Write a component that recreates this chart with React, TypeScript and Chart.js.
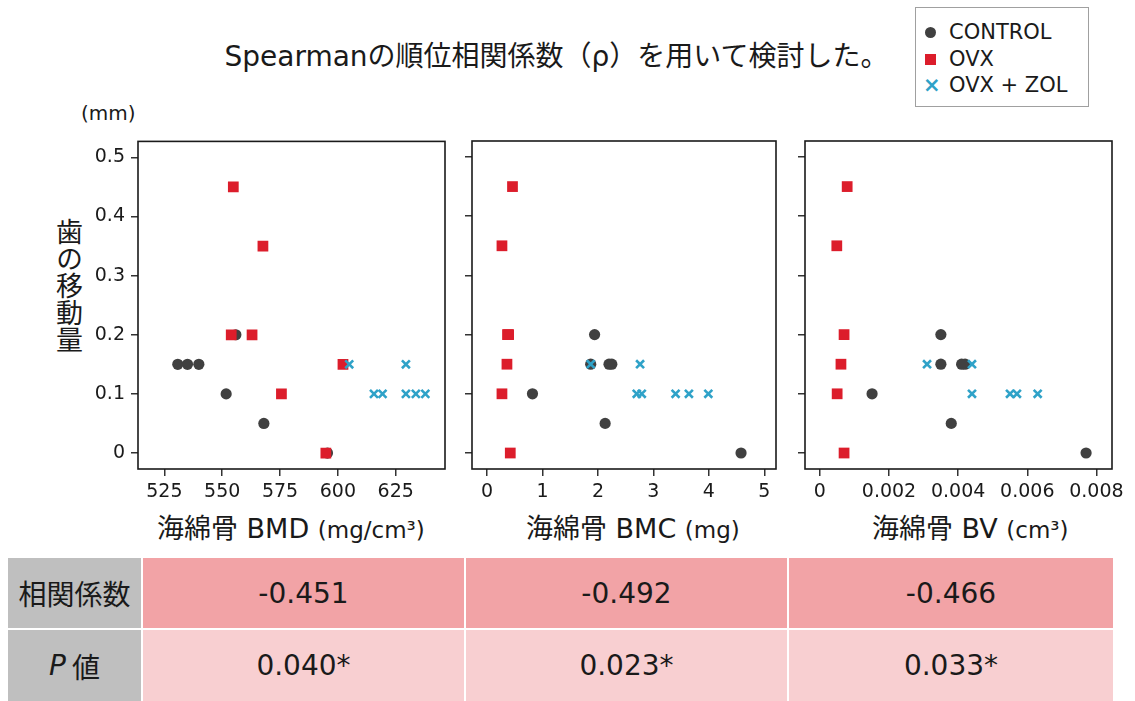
import React, { useEffect, useRef } from "react";
import { Chart, registerables } from "chart.js";
Chart.register(...registerables);

// ---------- data ----------
const yTicks = [0, 0.1, 0.2, 0.3, 0.4, 0.5];
const yTickLabels = ["0", "0.1", "0.2", "0.3", "0.4", "0.5"];
const yMin = -0.027;
const yMax = 0.527;

// Panel 1: 海綿骨 BMD (mg/cm3)
const bmdTicks = [525, 550, 575, 600, 625];
const bmdTickLabels = ["525", "550", "575", "600", "625"];
const bmdControlX = [530.8, 535, 539.9, 551.7, 568, 555.9, 595.5];
const bmdControlY = [0.15, 0.15, 0.15, 0.1, 0.05, 0.2, 0];
const bmdOvxX = [554.8, 567.6, 553.9, 562.9, 602.2, 575.6, 594.8];
const bmdOvxY = [0.45, 0.35, 0.2, 0.2, 0.15, 0.1, 0];
const bmdZolX = [604.9, 629.4, 615.6, 619.3, 629.4, 633.7, 637.8];
const bmdZolY = [0.15, 0.15, 0.1, 0.1, 0.1, 0.1, 0.1];

// Panel 2: 海綿骨 BMC (mg)
const bmcTicks = [0, 1, 2, 3, 4, 5];
const bmcTickLabels = ["0", "1", "2", "3", "4", "5"];
const bmcControlX = [1.94, 1.87, 2.2, 2.25, 0.82, 2.13, 4.58];
const bmcControlY = [0.2, 0.15, 0.15, 0.15, 0.1, 0.05, 0];
const bmcOvxX = [0.46, 0.27, 0.37, 0.39, 0.36, 0.27, 0.42];
const bmcOvxY = [0.45, 0.35, 0.2, 0.2, 0.15, 0.1, 0];
const bmcZolX = [1.87, 2.76, 2.7, 2.79, 3.4, 3.64, 3.99];
const bmcZolY = [0.15, 0.15, 0.1, 0.1, 0.1, 0.1, 0.1];

// Panel 3: 海綿骨 BV (cm3)
const bvTicks = [0, 0.002, 0.004, 0.006, 0.008];
const bvTickLabels = ["0", "0.002", "0.004", "0.006", "0.008"];
const bvControlX = [0.0035, 0.0035, 0.0041, 0.0042, 0.00151, 0.0038, 0.0077];
const bvControlY = [0.2, 0.15, 0.15, 0.15, 0.1, 0.05, 0];
const bvOvxX = [0.00079, 0.00049, 0.0007, 0.00061, 0.0005, 0.0007];
const bvOvxY = [0.45, 0.35, 0.2, 0.15, 0.1, 0];
const bvZolX = [0.0031, 0.0044, 0.0044, 0.0055, 0.0057, 0.0063];
const bvZolY = [0.15, 0.15, 0.1, 0.1, 0.1, 0.1];

const seriesNames = ["CONTROL", "OVX", "OVX + ZOL"];
const rowLabels = ["相関係数", "値"];
const rhoValues = ["-0.451", "-0.492", "-0.466"];
const pValues = ["0.040*", "0.023*", "0.033*"];

// ---------- styles ----------
const C_CONTROL = "#404040";
const C_OVX = "#dc1d2b";
const C_ZOL = "#2fa2c8";
const LATIN = '"DejaVu Sans", "Noto Sans CJK JP", sans-serif';

const pts = (xs: number[], ys: number[]) => xs.map((x, i) => ({ x, y: ys[i] }));

const boxPlugin = {
  id: "boxFrame",
  afterDraw(chart: any) {
    const { ctx, chartArea } = chart;
    ctx.save();
    ctx.strokeStyle = "#1a1a1a";
    ctx.lineWidth = 1.6;
    ctx.strokeRect(chartArea.left, chartArea.top, chartArea.right - chartArea.left, chartArea.bottom - chartArea.top);
    ctx.restore();
  },
};

type PanelProps = {
  left: number;
  top: number;
  width: number;
  height: number;
  yAxisWidth: number;
  padTop: number;
  padRight: number;
  xAxisHeight: number;
  xMin: number;
  xMax: number;
  xTicks: number[];
  xTickLabels: string[];
  showYLabels: boolean;
  control: { x: number; y: number }[];
  ovx: { x: number; y: number }[];
  zol: { x: number; y: number }[];
};

function Panel(p: PanelProps) {
  const ref = useRef<HTMLCanvasElement>(null);
  useEffect(() => {
    if (!ref.current) return;
    const tickFont = { family: LATIN, size: 19 };
    const chart = new Chart(ref.current, {
      type: "scatter",
      data: {
        datasets: [
          {
            label: seriesNames[0],
            data: p.control,
            pointStyle: "circle",
            pointRadius: 5.6,
            backgroundColor: C_CONTROL,
            borderColor: C_CONTROL,
            borderWidth: 0,
            order: 3,
          },
          {
            label: seriesNames[1],
            data: p.ovx,
            pointStyle: "rect",
            pointRadius: 7.6,
            backgroundColor: C_OVX,
            borderColor: C_OVX,
            borderWidth: 0,
            order: 2,
          },
          {
            label: seriesNames[2],
            data: p.zol,
            pointStyle: "crossRot",
            pointRadius: 5.6,
            backgroundColor: C_ZOL,
            borderColor: C_ZOL,
            borderWidth: 2.6,
            order: 1,
          },
        ],
      },
      options: {
        animation: false,
        responsive: false,
        maintainAspectRatio: false,
        events: [],
        layout: { padding: { top: p.padTop, right: p.padRight, left: 0, bottom: 0 } },
        plugins: { legend: { display: false }, tooltip: { enabled: false } },
        scales: {
          x: {
            type: "linear",
            min: p.xMin,
            max: p.xMax,
            afterBuildTicks: (s: any) => {
              s.ticks = p.xTicks.map((v) => ({ value: v }));
            },
            afterFit: (s: any) => {
              s.height = p.xAxisHeight;
            },
            border: { display: false },
            grid: { display: true, drawOnChartArea: false, drawTicks: true, tickLength: 7, color: "#333", lineWidth: 1.5 },
            ticks: {
              autoSkip: false,
              maxRotation: 0,
              padding: 5,
              color: "#1a1a1a",
              font: tickFont,
              callback: (_v: any, i: number) => p.xTickLabels[i],
            },
          },
          y: {
            type: "linear",
            min: yMin,
            max: yMax,
            afterBuildTicks: (s: any) => {
              s.ticks = yTicks.map((v) => ({ value: v }));
            },
            afterFit: (s: any) => {
              s.width = p.yAxisWidth;
            },
            border: { display: false },
            grid: { display: true, drawOnChartArea: false, drawTicks: true, tickLength: 7, color: "#333", lineWidth: 1.5 },
            ticks: {
              autoSkip: false,
              padding: 6,
              display: p.showYLabels,
              color: "#1a1a1a",
              font: tickFont,
              callback: (_v: any, i: number) => yTickLabels[i],
            },
          },
        },
      },
      plugins: [boxPlugin],
    } as any);
    return () => chart.destroy();
  }, []);
  return (
    <canvas
      ref={ref}
      width={p.width}
      height={p.height}
      style={{ position: "absolute", left: p.left, top: p.top, width: p.width, height: p.height }}
    />
  );
}

const abs = (left: number, top: number, extra: any = {}) => ({ position: "absolute" as const, left, top, ...extra });

export default function App() {
  const cellBase = {
    position: "absolute" as const,
    display: "flex",
    alignItems: "center",
    justifyContent: "center",
    color: "#1a1a1a",
    fontFamily: LATIN,
    fontSize: 28,
  };
  const colX = [
    [143, 464],
    [466, 787],
    [789, 1113],
  ];
  const xTitle = { fontSize: 27, lineHeight: "36px", color: "#1a1a1a", whiteSpace: "nowrap" };
  const unit = { fontSize: 23 };
  return (
    <div style={{ position: "absolute", left: 0, top: 0, width: 1135, height: 701, background: "#fff", overflow: "hidden", fontFamily: LATIN }}>
      {/* title */}
      <div style={abs(0, 40, { width: 1113, textAlign: "center", fontSize: 28, lineHeight: "34px", color: "#1a1a1a", whiteSpace: "nowrap" })}>
        Spearmanの順位相関係数（ρ）を用いて検討した。
      </div>

      {/* legend */}
      <div style={abs(915, 7, { width: 174, height: 100, border: "1px solid #a0a0a0", boxSizing: "border-box", background: "#fff" })}>
        {seriesNames.map((n, i) => (
          <div key={n} style={abs(0, 12 + i * 26.5, { width: 174, height: 24, fontSize: 21, lineHeight: "24px", color: "#1a1a1a", whiteSpace: "nowrap" })}>
            {i === 0 && <span style={abs(9, 7, { width: 11, height: 11, borderRadius: "50%", background: C_CONTROL })} />}
            {i === 1 && <span style={abs(9, 7, { width: 11, height: 11, background: C_OVX })} />}
            {i === 2 && (
              <span style={abs(7, 0, { fontSize: 21, fontWeight: 700, color: C_ZOL, lineHeight: "24px" })}>×</span>
            )}
            <span style={abs(33, 0)}>{n}</span>
          </div>
        ))}
      </div>

      {/* y unit and title */}
      <div style={abs(81, 101, { fontSize: 20, color: "#1a1a1a" })}>(mm)</div>
      <div
        style={abs(54, 218, {
          writingMode: "vertical-rl",
          textOrientation: "upright",
          fontSize: 27,
          lineHeight: "30px",
          fontFamily: '"Noto Sans CJK JP", sans-serif',
          color: "#1a1a1a",
          letterSpacing: 0,
        })}
      >
        歯の移動量
      </div>

      <Panel
        left={75} top={124} width={380} height={386}
        yAxisWidth={63} padTop={11} padRight={10} xAxisHeight={41}
        xMin={513.6} xMax={646.3} xTicks={bmdTicks} xTickLabels={bmdTickLabels}
        showYLabels={true}
        control={pts(bmdControlX, bmdControlY)} ovx={pts(bmdOvxX, bmdOvxY)} zol={pts(bmdZolX, bmdZolY)}
      />
      <Panel
        left={455} top={130} width={330} height={380}
        yAxisWidth={17} padTop={11} padRight={9} xAxisHeight={41}
        xMin={-0.27} xMax={5.21} xTicks={bmcTicks} xTickLabels={bmcTickLabels}
        showYLabels={false}
        control={pts(bmcControlX, bmcControlY)} ovx={pts(bmcOvxX, bmcOvxY)} zol={pts(bmcZolX, bmcZolY)}
      />
      <Panel
        left={790} top={130} width={345} height={380}
        yAxisWidth={15} padTop={11} padRight={23} xAxisHeight={41}
        xMin={-0.00043} xMax={0.00845} xTicks={bvTicks} xTickLabels={bvTickLabels}
        showYLabels={false}
        control={pts(bvControlX, bvControlY)} ovx={pts(bvOvxX, bvOvxY)} zol={pts(bvZolX, bvZolY)}
      />

      {/* x-axis titles */}
      <div style={abs(157, 511, xTitle)}>
        海綿骨 BMD <span style={unit}>(mg/cm³)</span>
      </div>
      <div style={abs(526, 511, xTitle)}>
        海綿骨 BMC <span style={unit}>(mg)</span>
      </div>
      <div style={abs(872, 511, xTitle)}>
        海綿骨 BV <span style={unit}>(cm³)</span>
      </div>

      {/* table */}
      <div style={{ ...cellBase, left: 8, top: 558, width: 133, height: 70, background: "#bfbfbf" }}>{rowLabels[0]}</div>
      <div style={{ ...cellBase, left: 8, top: 630, width: 133, height: 71, background: "#bfbfbf" }}>
        <i style={{ marginRight: 6 }}>P</i>
        {rowLabels[1]}
      </div>
      {colX.map(([a, b], i) => (
        <React.Fragment key={i}>
          <div style={{ ...cellBase, left: a, top: 558, width: b - a, height: 70, background: "#f2a3a6" }}>{rhoValues[i]}</div>
          <div style={{ ...cellBase, left: a, top: 630, width: b - a, height: 71, background: "#f8cfd1" }}>{pValues[i]}</div>
        </React.Fragment>
      ))}
    </div>
  );
}
